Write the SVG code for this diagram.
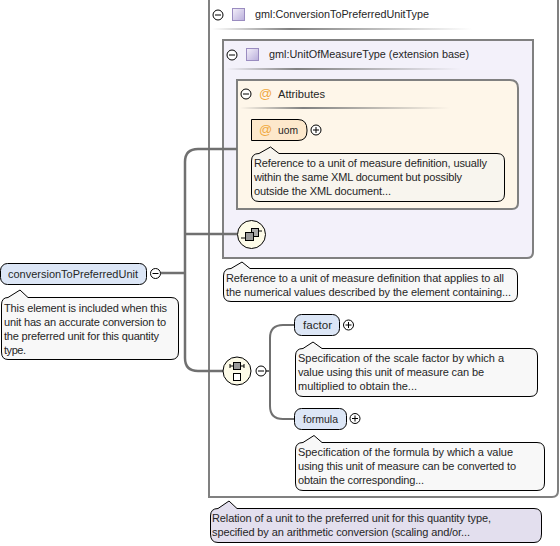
<svg xmlns="http://www.w3.org/2000/svg" width="560" height="546" viewBox="0 0 560 546">
<defs>
<style>
text{font-family:"Liberation Sans",Arial,sans-serif;font-size:11px;fill:#262626}
.box{stroke:#808080;stroke-width:2}
.co{fill:#f8f8f8;stroke:#000;stroke-width:1}
.el{fill:#dce6f6;stroke:#000;stroke-width:1}
.btn{fill:#fff;stroke:#000;stroke-width:1}
.sign{fill:none;stroke:#000;stroke-width:1}
.conn{fill:none;stroke:#707070;stroke-width:2.5}
.ic{fill:#fdfbe8;stroke:#000;stroke-width:1}
.ty{fill:url(#ty);stroke:#9a8cc0;stroke-width:1}
.at{fill:#f0a840;font-size:13px}
</style>
<linearGradient id="ty" x1="0" y1="0" x2="1" y2="1"><stop offset="0" stop-color="#f4f0fa"/><stop offset="1" stop-color="#b9aedb"/></linearGradient>
<linearGradient id="rule" x1="0" y1="0" x2="1" y2="0"><stop offset="0" stop-color="#808080" stop-opacity="0"/><stop offset=".3" stop-color="#808080"/><stop offset="1" stop-color="#808080" stop-opacity="0"/></linearGradient>
<g id="minus"><circle r="5" class="btn"/><path d="M-3 0H3" class="sign"/></g>
<g id="plus"><circle r="5" class="btn"/><path d="M-3 0H3M0-3V3" class="sign"/></g>
</defs>
<g id="outer-type">
<path d="M209 -2H558V491Q558 497 552 497H209Z" fill="#fff" class="box"/>
<use href="#minus" x="218" y="15"/>
<rect x="232.500" y="8.500" width="12" height="12" class="ty"/>
<text x="255" y="18" textLength="174" lengthAdjust="spacingAndGlyphs">gml:ConversionToPreferredUnitType</text>
<rect x="212" y="28" width="260" height="2" fill="url(#rule)"/>
</g>
<g id="base-type">
<path d="M223 40H533V252Q533 258 527 258H223Z" fill="#f3f1fa" class="box"/>
<use href="#minus" x="232" y="55"/>
<rect x="246.500" y="48.500" width="12" height="12" class="ty"/>
<text x="269" y="58" textLength="200" lengthAdjust="spacingAndGlyphs">gml:UnitOfMeasureType (extension base)</text>
<rect x="226" y="68" width="235" height="2" fill="url(#rule)"/>
</g>
<g id="attributes">
<path d="M237 80H510Q518 80 518 88V203Q518 209 512 209H237Z" fill="#fef6e9" class="box"/>
<use href="#minus" x="246" y="94"/>
<text x="259" y="98" class="at">@</text>
<text x="278" y="98" textLength="47" lengthAdjust="spacingAndGlyphs">Attributes</text>
<rect x="240" y="107" width="210" height="2" fill="url(#rule)"/>
</g>
<g id="connectors">
<path class="conn" d="M161 273H185M185 272V162Q185 149 198 149H237M185 234H237M185 272V358Q185 371 198 371H223"/>
<path class="conn" style="stroke-width:2" d="M266 371H270M270 371V338Q270 325 283 325H294M270 371V406Q270 419 283 419H294"/>
</g>
<g id="uom">
<path d="M251.500 119.500H298Q307 119.500 307 130V131Q307 140.500 298 140.500H251.500Z" fill="#fde8cb" stroke="#000"/>
<text x="259" y="134" class="at">@</text>
<text x="278" y="134" textLength="20" lengthAdjust="spacingAndGlyphs">uom</text>
<use href="#plus" x="316" y="130"/>
</g>
<g id="uom-note">
<path class="co" style="fill:#f8f5ee" d="M259 153.500L270.500 147L279 153.500H497Q504.500 153.500 504.500 161V194Q504.500 201.500 497 201.500H259Q251.500 201.500 251.500 194V161Q251.500 153.500 259 153.500Z"/>
<text x="254" y="167" textLength="233">Reference to a unit of measure definition, usually</text>
<text x="254" y="181" textLength="208">within the same XML document but possibly</text>
<text x="254" y="195" textLength="137">outside the XML document...</text>
</g>
<g id="attr-seq">
<circle cx="251.500" cy="234.500" r="14" class="ic"/>
<path d="M241 238H245M258 231H262" stroke="#000"/>
<rect x="251.500" y="228.500" width="7" height="8" fill="#aaa" stroke="#000"/>
<rect x="245.500" y="232.500" width="8" height="8" fill="#999" stroke="#000"/>
</g>
<g id="type-note">
<path class="co" d="M231 268.500L242 262L250 268.500H510Q517.500 268.500 517.500 276V294Q517.500 301.500 510 301.500H231Q223.500 301.500 223.500 294V276Q223.500 268.500 231 268.500Z"/>
<text x="226" y="282" textLength="278">Reference to a unit of measure definition that applies to all</text>
<text x="226" y="296" textLength="285">the numerical values described by the element containing...</text>
</g>
<g id="conversionToPreferredUnit">
<rect x="0.500" y="263.500" width="146" height="21" rx="7" class="el"/>
<text x="8" y="278" textLength="130" lengthAdjust="spacingAndGlyphs">conversionToPreferredUnit</text>
<use href="#minus" x="155.500" y="273.500"/>
</g>
<g id="element-note">
<path class="co" d="M8 297.500L20 290L28 297.500H171Q178.500 297.500 178.500 305V352Q178.500 359.500 171 359.500H8Q1.500 359.500 1.500 352V305Q1.500 297.500 8 297.500Z"/>
<text x="4" y="312" textLength="163">This element is included when this</text>
<text x="4" y="326" textLength="162">unit has an accurate conversion to</text>
<text x="4" y="340" textLength="155">the preferred unit for this quantity</text>
<text x="4" y="354" textLength="22">type.</text>
</g>
<g id="choice-seq">
<circle cx="237" cy="371" r="14" class="ic"/>
<path d="M230 366H244M230 364V368M244 364V368" stroke="#000" fill="none"/>
<rect x="233.500" y="362.500" width="7" height="7" fill="#999" stroke="#000"/>
<rect x="233.500" y="373.500" width="7" height="7" fill="#fff" stroke="#000"/>
<use href="#minus" x="261" y="371"/>
</g>
<g id="factor">
<rect x="294.500" y="314.500" width="45" height="21" rx="7" class="el"/>
<text x="303" y="329" textLength="29" lengthAdjust="spacingAndGlyphs">factor</text>
<use href="#plus" x="348.500" y="325"/>
</g>
<g id="factor-note">
<path class="co" d="M303 348.500L313 342L322 348.500H530Q537.500 348.500 537.500 356V389Q537.500 396.500 530 396.500H303Q295.500 396.500 295.500 389V356Q295.500 348.500 303 348.500Z"/>
<text x="298" y="362" textLength="206">Specification of the scale factor by which a</text>
<text x="298" y="376" textLength="186">value using this unit of measure can be</text>
<text x="298" y="390" textLength="119">multiplied to obtain the...</text>
</g>
<g id="formula">
<rect x="294.500" y="408.500" width="52" height="21" rx="7" class="el"/>
<text x="303" y="423" textLength="35" lengthAdjust="spacingAndGlyphs">formula</text>
<use href="#plus" x="355" y="418.500"/>
</g>
<g id="formula-note">
<path class="co" d="M303 442.500L314 435.500L322 442.500H537Q544.500 442.500 544.500 450V483Q544.500 490.500 537 490.500H303Q295.500 490.500 295.500 483V450Q295.500 442.500 303 442.500Z"/>
<text x="298" y="456" textLength="215">Specification of the formula by which a value</text>
<text x="298" y="470" textLength="218">using this unit of measure can be converted to</text>
<text x="298" y="484" textLength="126">obtain the corresponding...</text>
</g>
<g id="type-doc">
<path d="M218 508.500L229 501L237 508.500H534Q541.500 508.500 541.500 516V534Q541.500 542.500 534 542.500H218Q210.500 542.500 210.500 534V516Q210.500 508.500 218 508.500Z" fill="#e3dfee" stroke="#000"/>
<text x="212" y="522" textLength="279">Relation of a unit to the preferred unit for this quantity type,</text>
<text x="212" y="536" textLength="258">specified by an arithmetic conversion (scaling and/or...</text>
</g>
</svg>
